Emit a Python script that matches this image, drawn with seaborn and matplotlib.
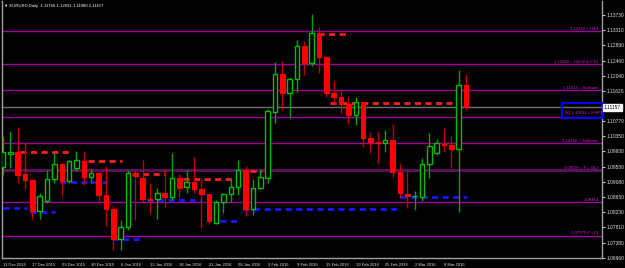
import matplotlib
matplotlib.use("Agg")
import matplotlib.pyplot as plt
import seaborn as sns
import numpy as np
import pandas as pd

# ---------------- data ----------------
dates = ["11 Dec", "14 Dec", "15 Dec", "16 Dec", "17 Dec", "18 Dec", "21 Dec", "22 Dec", "23 Dec", "24 Dec",
         "28 Dec", "29 Dec", "30 Dec", "31 Dec", "4 Jan", "5 Jan", "6 Jan", "7 Jan", "8 Jan", "11 Jan",
         "12 Jan", "13 Jan", "14 Jan", "15 Jan", "18 Jan", "19 Jan", "20 Jan", "21 Jan", "22 Jan", "25 Jan",
         "26 Jan", "27 Jan", "28 Jan", "29 Jan", "1 Feb", "2 Feb", "3 Feb", "4 Feb", "5 Feb", "8 Feb",
         "9 Feb", "10 Feb", "11 Feb", "12 Feb", "15 Feb", "16 Feb", "17 Feb", "18 Feb", "19 Feb", "22 Feb",
         "23 Feb", "24 Feb", "25 Feb", "26 Feb", "29 Feb", "1 Mar", "2 Mar", "3 Mar", "4 Mar", "7 Mar",
         "8 Mar", "9 Mar", "10 Mar", "11 Mar"]
opens = [1.0950, 1.0986, 1.0992, 1.0930, 1.0914, 1.0827, 1.0855, 1.0916, 1.0957, 1.0911,
         1.0946, 1.0967, 1.0921, 1.0932, 1.0872, 1.0833, 1.0750, 1.0782, 1.0932, 1.0919,
         1.0861, 1.0860, 1.0877, 1.0865, 1.0919, 1.0893, 1.0908, 1.0889, 1.0875, 1.0793,
         1.0851, 1.0873, 1.0893, 1.0941, 1.0832, 1.0890, 1.0918, 1.1104, 1.1210, 1.1155,
         1.1195, 1.1287, 1.1240, 1.1322, 1.1255, 1.1155, 1.1145, 1.1125, 1.1095, 1.1130,
         1.1030, 1.1020, 1.1015, 1.1025, 1.0935, 1.08745, 1.0868, 1.0866, 1.0958, 1.0989,
         1.1014, 1.1011, 1.1000, 1.11766]
highs = [1.1033, 1.1050, 1.1062, 1.1016, 1.0915, 1.0877, 1.0941, 1.0988, 1.0960, 1.0969,
         1.0994, 1.0994, 1.0944, 1.0935, 1.0951, 1.0842, 1.0802, 1.0941, 1.0941, 1.0969,
         1.0904, 1.0892, 1.0944, 1.0988, 1.0930, 1.0941, 1.0978, 1.0916, 1.0875, 1.0858,
         1.0877, 1.0918, 1.0969, 1.0951, 1.0916, 1.0941, 1.1112, 1.1242, 1.1245, 1.1199,
         1.1302, 1.1300, 1.1376, 1.1339, 1.1260, 1.1189, 1.1165, 1.1145, 1.1144, 1.1130,
         1.1047, 1.1050, 1.1053, 1.1069, 1.0960, 1.0937, 1.0883, 1.0974, 1.1044, 1.1028,
         1.1058, 1.1036, 1.1220, 1.12091]
lows = [1.0927, 1.0947, 1.0906, 1.0888, 1.0802, 1.0805, 1.0849, 1.0904, 1.0870, 1.0904,
        1.0937, 1.0900, 1.0904, 1.0856, 1.0784, 1.0719, 1.0719, 1.0774, 1.0802, 1.0849,
        1.0821, 1.0805, 1.0837, 1.0858, 1.0867, 1.0877, 1.0877, 1.0779, 1.0790, 1.0791,
        1.0821, 1.0851, 1.0872, 1.0812, 1.0816, 1.0888, 1.0904, 1.1072, 1.1107, 1.1085,
        1.1158, 1.1206, 1.1230, 1.1211, 1.1145, 1.1122, 1.1100, 1.1069, 1.1067, 1.1004,
        1.0989, 1.0957, 1.0992, 1.0921, 1.0862, 1.0835, 1.0829, 1.0855, 1.0918, 1.0982,
        1.0991, 1.0947, 1.0824, 1.11080]
closes = [1.0990, 1.0992, 1.0928, 1.0912, 1.0827, 1.0870, 1.0916, 1.0957, 1.0911, 1.0967,
          1.0968, 1.0921, 1.0932, 1.0872, 1.0832, 1.0749, 1.0782, 1.0932, 1.0925, 1.0860,
          1.0858, 1.0878, 1.0866, 1.0918, 1.0892, 1.0909, 1.0889, 1.0874, 1.0800, 1.0851,
          1.0873, 1.0895, 1.0941, 1.0832, 1.0890, 1.0921, 1.1106, 1.1210, 1.1157, 1.1195,
          1.1287, 1.1240, 1.1322, 1.1255, 1.1155, 1.1145, 1.1125, 1.1095, 1.1130, 1.1030,
          1.1020, 1.1015, 1.1025, 1.0935, 1.0877, 1.0869, 1.0870, 1.0958, 1.1008, 1.1017,
          1.1012, 1.0999, 1.1178, 1.11157]

x_tick_bars = [0, 4, 8, 12, 16, 20, 24, 28, 32, 36, 40, 44, 48, 52, 56, 60]
x_tick_labels = ["11 Dec 2015", "17 Dec 2015", "23 Dec 2015", "30 Dec 2015", "6 Jan 2016", "12 Jan 2016",
                 "18 Jan 2016", "22 Jan 2016", "28 Jan 2016", "3 Feb 2016", "9 Feb 2016", "15 Feb 2016",
                 "19 Feb 2016", "25 Feb 2016", "2 Mar 2016", "8 Mar 2016"]
y_tick_values = [1.13730, 1.13310, 1.12890, 1.12460, 1.12040, 1.11620, 1.10770, 1.10350, 1.09930,
                 1.09500, 1.09080, 1.08650, 1.08230, 1.07810, 1.07380, 1.06960]

level_prices = [1.13280, 1.12362, 1.11638, 1.10890, 1.10162, 1.09410, 1.08520, 1.07576]
level_labels = ["1.13265 = H4S", "1.12352 = H4H2 & P.61", "1.11613 = Sellzone", "[X] 1.10834 = H4P3",
                "1.10136 = Sellzone", "1.09397 = F+ 38.2", "1.08464", "1.07570 P =13"]

res_start = [2.3, 11.6, 17.6, 24.5, 33.6, 42.9, 44.5]
res_end = [9.1, 16.2, 22.0, 31.2, 35.2, 47.2, 61.1]
res_price = [1.09900, 1.09656, 1.09303, 1.09164, 1.09395, 1.13201, 1.11280]

sup_start = [0.0, 3.7, 7.8, 14.8, 19.6, 29.5, 32.7, 54.0]
sup_end = [3.3, 7.1, 14.1, 19.0, 27.1, 32.0, 54.1, 63.1]
sup_price = [1.08356, 1.08245, 1.09089, 1.07485, 1.08579, 1.08003, 1.08319, 1.08670]

title_text = "EURUSD,Daily  1.11766 1.12091 1.11080 1.11157"
current_price = 1.11157

# ---------------- figure ----------------
sns.set_theme(style="dark")
plt.rcParams["font.family"] = ["Liberation Sans", "DejaVu Sans"]

W, H = 625, 268
fig = plt.figure(figsize=(W / 100, H / 100), dpi=100, facecolor="black")
ax = fig.add_axes([2 / W, 10 / H, 600 / W, 257 / H])
ax.set_facecolor("black")

df = pd.DataFrame({"date": dates, "open": opens, "high": highs, "low": lows, "close": closes})
df["i"] = np.arange(len(df))
df["bull"] = df["close"] >= df["open"]

# horizontal levels
for k, (p, lab) in enumerate(zip(level_prices, level_labels)):
    if k == 5:
        ax.axhline(p, color="#5a0f5a", lw=2.2, zorder=1)
    else:
        ax.axhline(p, color="#a000a0", lw=1.0, zorder=1)
    if lab.startswith("[X]"):
        ax.text(0.938, p + 0.0006, lab, transform=ax.get_yaxis_transform(), color="#cc22cc",
                fontsize=3.1, ha="left", va="bottom", zorder=6)
    else:
        ax.text(0.994, p + 0.00012, lab, transform=ax.get_yaxis_transform(), color="#cc22cc",
                fontsize=3.1, ha="right", va="bottom", zorder=6)

# current price line
ax.axhline(current_price, color="#707070", lw=1.0, zorder=1)

# blue box around H4P3 label
ax.add_patch(plt.Rectangle((0.933, 1.10850), 0.069, 0.0042, transform=ax.get_yaxis_transform(),
                           fill=False, edgecolor="#0000ff", lw=1.5, zorder=5, clip_on=False))

# resistance / support dashed segments
for s, e, p in zip(res_start, res_end, res_price):
    ax.plot([s, e], [p, p], color="#ff2020", lw=2.0, ls=(0, (2.2, 1.6)), zorder=2)
for s, e, p in zip(sup_start, sup_end, sup_price):
    ax.plot([s, e], [p, p], color="#1818ff", lw=2.0, ls=(0, (2.2, 1.6)), zorder=2)

# candles
bull = df[df["bull"]]
bear = df[~df["bull"]]
ax.vlines(bull["i"], bull["low"], bull["high"], color="#00a000", lw=1.0, zorder=3)
ax.vlines(bear["i"], bear["low"], bear["high"], color="#c00000", lw=1.0, zorder=3)
ax.bar(bull["i"], (bull["close"] - bull["open"]).clip(lower=0.00004), bottom=bull["open"], width=0.62,
       color="black", edgecolor="#00c000", linewidth=1.0, zorder=4)
ax.bar(bear["i"], (bear["open"] - bear["close"]).clip(lower=0.00004), bottom=bear["close"], width=0.62,
       color="#ff0000", edgecolor="#ff0000", linewidth=0.8, zorder=4)

# axes limits
ax.set_xlim(-0.136, 81.5)
ax.set_ylim(1.06963, 1.14120)

# axis styling
for side in ["top", "bottom", "left", "right"]:
    ax.spines[side].set_visible(True)
    ax.spines[side].set_color("#a0a0a0")
    ax.spines[side].set_linewidth(1.0)
ax.spines["top"].set_visible(False)
ax.grid(False)

ax.yaxis.tick_right()
ax.set_yticks(y_tick_values)
ax.set_yticklabels([f"{v:.5f}" for v in y_tick_values])
ax.tick_params(axis="y", colors="#c8c8c8", labelsize=3.5, length=2, width=0.8, pad=1.0, labelcolor="#e0e0e0")

ax.set_xticks(x_tick_bars)
ax.set_xticklabels(x_tick_labels)
ax.tick_params(axis="x", colors="#c8c8c8", labelsize=3.0, length=2, width=0.8, pad=1.5, labelcolor="#e0e0e0")
for lbl in ax.get_xticklabels():
    lbl.set_horizontalalignment("left")

# current price tag on the axis
ax.text(1.0035, current_price, "1.11157", transform=ax.get_yaxis_transform(), color="black",
        fontsize=3.5, ha="left", va="center", zorder=7, clip_on=False,
        bbox=dict(boxstyle="square,pad=0.15", facecolor="white", edgecolor="white"))

# title
ax.text(0.004, 0.988, "\u25bc " + title_text, transform=ax.transAxes, color="white", fontsize=3.1,
        ha="left", va="top", zorder=7)

fig.savefig("out.png", dpi=100, facecolor="black")
